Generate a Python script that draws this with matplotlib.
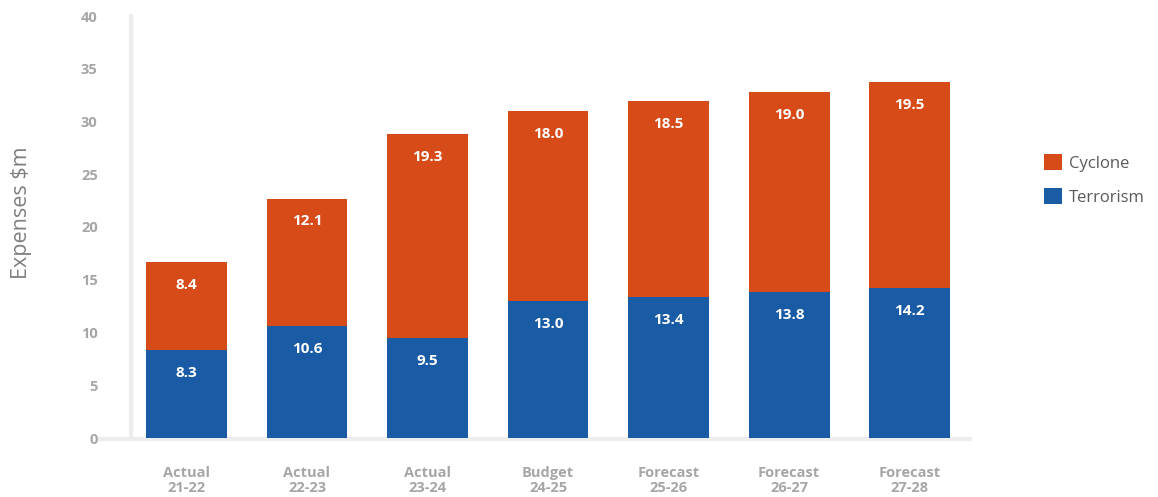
import numpy as np
import matplotlib
matplotlib.use('Agg')
import matplotlib.pyplot as plt

periods = ['Actual\n21-22', 'Actual\n22-23', 'Actual\n23-24', 'Budget\n24-25',
           'Forecast\n25-26', 'Forecast\n26-27', 'Forecast\n27-28']
terrorism = [8.3, 10.6, 9.5, 13.0, 13.4, 13.8, 14.2]
cyclone = [8.4, 12.1, 19.3, 18.0, 18.5, 19.0, 19.5]

blue = '#1A5BA6'
orange = '#D64B17'
tick_grey = '#A6A6A6'

plt.rcParams['font.family'] = ['Open Sans', 'DejaVu Sans']

fig = plt.figure(figsize=(11.58, 4.97), dpi=100)
ax = fig.add_axes([131 / 1158, 1 - 438 / 497, (970 - 131) / 1158, 422 / 497])

x = np.arange(len(periods))
width = 0.67
terrorism = np.array(terrorism)
cyclone = np.array(cyclone)

b1 = ax.bar(x, terrorism, width, color=blue, label='Terrorism', zorder=3)
b2 = ax.bar(x, cyclone, width, bottom=terrorism, color=orange, label='Cyclone', zorder=3)

# value labels sit just under the top of each segment
for xi, t, c in zip(x, terrorism, cyclone):
    for top, val in ((t, t), (t + c, c)):
        ax.annotate(f'{val:.1f}', xy=(xi, top), xytext=(0, -16.5), textcoords='offset points',
                    ha='center', va='center', color='white', fontsize=11,
                    fontweight='bold', zorder=4)

ax.set_xlim(-0.46, 6.5)
ax.set_ylim(0, 40)
ax.set_yticks(np.arange(0, 41, 5))
ax.set_xticks(x)
ax.set_xticklabels(periods, linespacing=1.15)

for s in ax.spines.values():
    s.set_visible(False)

ax.axvline(-0.46, color='#EDEDED', lw=3, zorder=1, clip_on=False)
ax.plot([-0.72, 6.5], [-0.1, -0.1], color='#EDEDED', lw=3, zorder=1, clip_on=False)

ax.tick_params(axis='both', length=0, colors=tick_grey, labelsize=10.5)
ax.tick_params(axis='y', pad=24)
ax.tick_params(axis='x', pad=20)
for lbl in ax.get_xticklabels() + ax.get_yticklabels():
    lbl.set_fontweight('bold')

fig.text(22 / 1158, 1 - 213 / 497, 'Expenses $m', rotation=90, ha='center', va='center',
         color='#7F7F7F', fontsize=15.5)

fig.legend(handles=[b2, b1], labels=['Cyclone', 'Terrorism'], loc='center left',
           bbox_to_anchor=(1044 / 1158, 1 - 180 / 497), frameon=False, fontsize=12,
           labelcolor='#595959', handlelength=1.1, handleheight=1.1, handletextpad=0.4,
           labelspacing=1.0, borderpad=0, borderaxespad=0)

fig.savefig('out.png', dpi=100)
